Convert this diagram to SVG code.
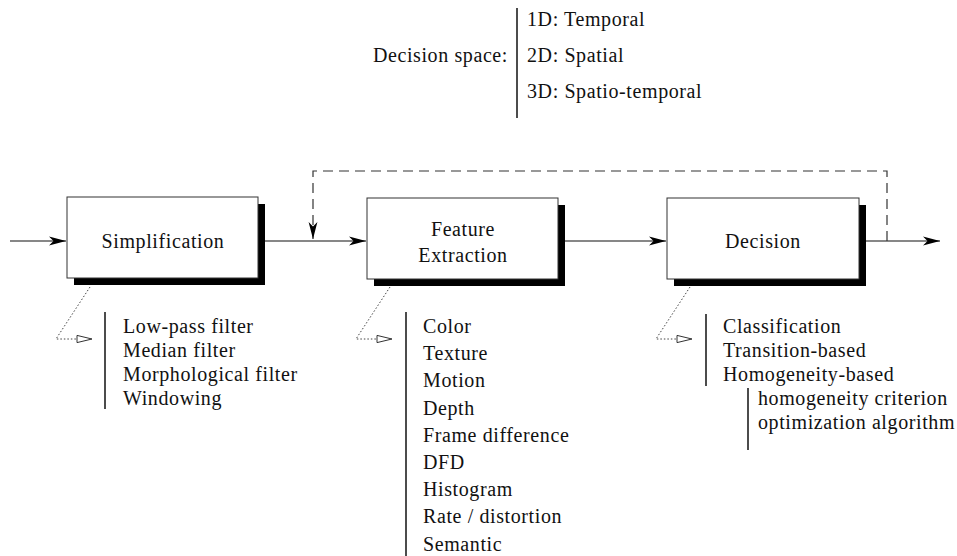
<svg xmlns="http://www.w3.org/2000/svg" width="957" height="556" viewBox="0 0 957 556" font-family="'Liberation Serif', 'DejaVu Serif', serif">
  <defs>
    <marker id="solid" markerWidth="18" markerHeight="12" refX="17" refY="6" orient="auto" markerUnits="userSpaceOnUse">
      <path d="M0,1.6 L17,6 L0,10.4 L4.5,6 z" fill="#000"/>
    </marker>
    <marker id="hollow" markerWidth="17" markerHeight="10" refX="16" refY="5" orient="auto" markerUnits="userSpaceOnUse">
      <path d="M1,1.4 L16,5 L1,8.6 z" fill="#fff" stroke="#333" stroke-width="1"/>
    </marker>
  </defs>
  <style>
    text { font-family: 'Liberation Serif', 'DejaVu Serif', serif; font-size: 20px; letter-spacing: 0.6px; fill: #111; }
    .c { text-anchor: middle; }
    .r { text-anchor: end; }
    .box { fill: #fff; stroke: #333; stroke-width: 1; }
    .shadow { fill: #000; }
    .flow { stroke: #111; stroke-width: 1.2; fill: none; }
    .feedback { stroke: #333; stroke-width: 1.2; stroke-dasharray: 10 6; fill: none; }
    .hint { stroke: #444; stroke-width: 1; stroke-dasharray: 1.5 2; fill: none; }
    .bar { stroke: #111; stroke-width: 1.5; }
  </style>
  <rect width="957" height="556" fill="#fff"/>

  <!-- decision space legend -->
  <g id="decision-space">
    <text class="r" x="508" y="62">Decision space:</text>
    <line class="bar" x1="517" y1="8" x2="517" y2="118"/>
    <text x="527" y="26">1D: Temporal</text>
    <text x="527" y="62">2D: Spatial</text>
    <text x="527" y="98">3D: Spatio-temporal</text>
  </g>

  <!-- processing blocks -->
  <g id="simplification">
    <rect class="shadow" x="74" y="204" width="191" height="81"/>
    <rect class="box" x="67" y="197" width="191" height="81"/>
    <text class="c" x="163" y="248">Simplification</text>
  </g>
  <g id="feature-extraction">
    <rect class="shadow" x="374" y="205" width="191" height="81"/>
    <rect class="box" x="367" y="198" width="191" height="81"/>
    <text class="c" x="463" y="236">Feature</text>
    <text class="c" x="463" y="262">Extraction</text>
  </g>
  <g id="decision">
    <rect class="shadow" x="674" y="205" width="192" height="81"/>
    <rect class="box" x="667" y="198" width="192" height="81"/>
    <text class="c" x="763" y="248">Decision</text>
  </g>

  <!-- connectors -->
  <g id="connectors">
    <path class="flow" d="M10,241 H66" marker-end="url(#solid)"/>
    <path class="flow" d="M265,241 H366" marker-end="url(#solid)"/>
    <path class="flow" d="M565,241 H666" marker-end="url(#solid)"/>
    <path class="flow" d="M866,241 H940" marker-end="url(#solid)"/>
    <path class="feedback" d="M887,241 V171 H313 V239" marker-end="url(#solid)"/>
    <path class="hint" d="M90,287 L56,339 H92" marker-end="url(#hollow)"/>
    <path class="hint" d="M390,287 L356,339 H392" marker-end="url(#hollow)"/>
    <path class="hint" d="M690,287 L656,339 H692" marker-end="url(#hollow)"/>
  </g>

  <!-- option lists -->
  <g id="simplification-options">
    <line class="bar" x1="105" y1="312" x2="105" y2="409"/>
    <text x="123" y="333">Low-pass filter</text>
    <text x="123" y="357">Median filter</text>
    <text x="123" y="381">Morphological filter</text>
    <text x="123" y="405">Windowing</text>
  </g>
  <g id="feature-options">
    <line class="bar" x1="406" y1="312" x2="406" y2="556"/>
    <text x="423" y="333">Color</text>
    <text x="423" y="360.2">Texture</text>
    <text x="423" y="387.4">Motion</text>
    <text x="423" y="414.6">Depth</text>
    <text x="423" y="441.8">Frame difference</text>
    <text x="423" y="469">DFD</text>
    <text x="423" y="496.2">Histogram</text>
    <text x="423" y="523.4">Rate / distortion</text>
    <text x="423" y="550.6">Semantic</text>
  </g>
  <g id="decision-options">
    <line class="bar" x1="706" y1="314" x2="706" y2="386"/>
    <text x="723" y="333">Classification</text>
    <text x="723" y="357">Transition-based</text>
    <text x="723" y="381">Homogeneity-based</text>
    <line class="bar" x1="748" y1="388" x2="748" y2="450"/>
    <text x="758" y="405">homogeneity criterion</text>
    <text x="758" y="429">optimization algorithm</text>
  </g>
</svg>
